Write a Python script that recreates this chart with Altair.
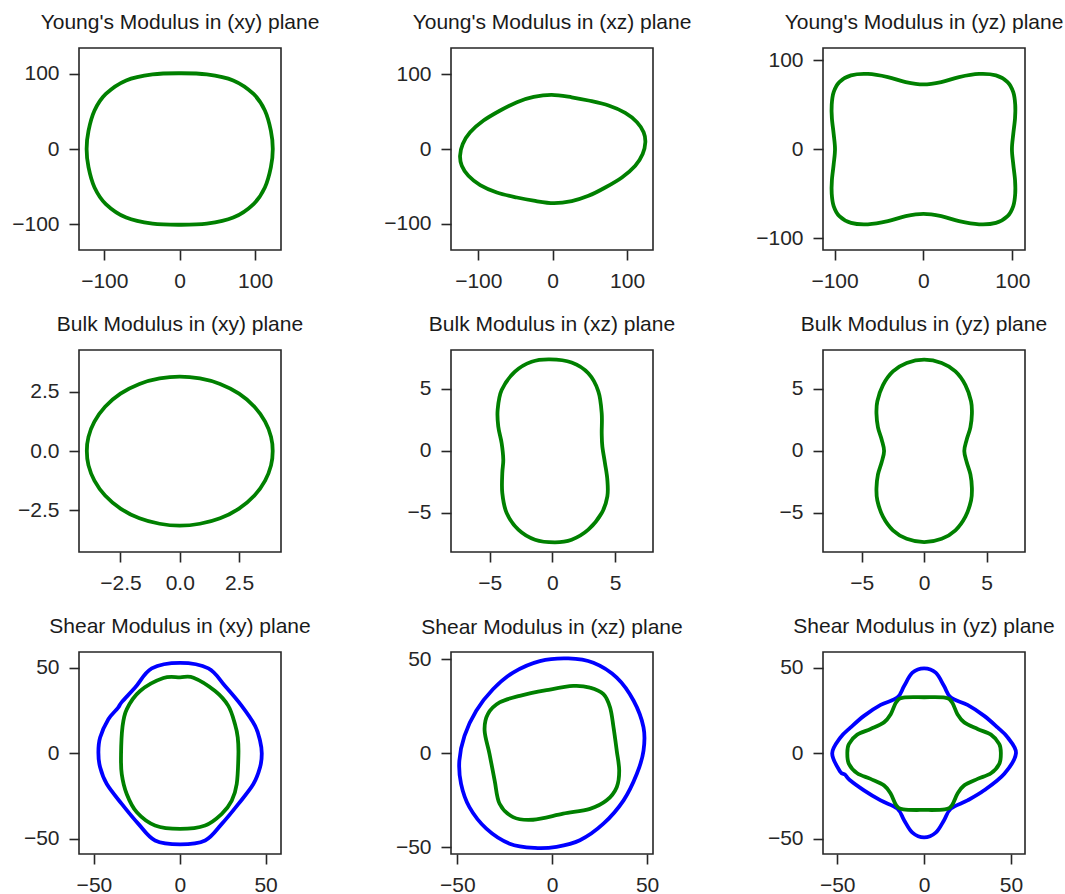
import altair as alt
import pandas as pd

# ---------------- data ----------------
# Young's modulus (xy)
yxy_x = [123.5, 121, 113, 98, 71, 36, 0, -36, -71, -98, -113, -121, -123.5, -121, -113, -98, -71, -36, 0, 36, 71, 98, 113, 121]
yxy_y = [0, 24, 51, 73, 91, 99, 100.5, 99, 91, 73, 51, 24, 0, -24, -51, -73, -91, -99, -100.5, -99, -91, -73, -51, -24]

# Young's modulus (xz)
yxz_x = [-1.3, 25.6, 48.1, 75.1, 97.5, 113.3, 122.2, 124.5, 120.9, 111.0, 93.0, 70.6, 48.1, 25.6,
         1.3, -25.6, -48.1, -75.1, -97.5, -113.3, -122.2, -124.5, -120.9, -111.0, -93.0, -70.6, -48.1, -25.6]
yxz_y = [72.6, 69.3, 65.0, 58.3, 48.4, 35.9, 22.4, 9.0, -6.7, -22.4, -38.1, -51.6, -62.8, -69.8,
         -72.6, -69.3, -65.0, -58.3, -48.4, -35.9, -22.4, -9.0, 6.7, 22.4, 38.1, 51.6, 62.8, 69.8]

# Young's modulus (yz)
yyz_x = [99.5, 101, 103, 103.2, 101, 94.6, 81.5, 62.5, 40, 20, 0, -20, -40, -62.5, -81.5, -94.6, -101, -103.2, -103, -101,
         -99.5, -101, -103, -103.2, -101, -94.6, -81.5, -62.5, -40, -20, 0, 20, 40, 62.5, 81.5, 94.6, 101, 103.2, 103, 101]
yyz_y = [0, 17, 35, 50, 64, 75.3, 82.9, 84.5, 81, 75.3, 72.7, 75.3, 81, 84.5, 82.9, 75.3, 64, 50, 35, 17,
         0, -17, -35, -50, -64, -75.3, -82.9, -84.5, -81, -75.3, -72.7, -75.3, -81, -84.5, -82.9, -75.3, -64, -50, -35, -17]

# Bulk modulus (xy)
bxy_x = [3.92, 3.85, 3.6, 3.15, 2.5, 1.7, 0.85, 0, -0.85, -1.7, -2.5, -3.15, -3.6, -3.85,
         -3.92, -3.85, -3.6, -3.15, -2.5, -1.7, -0.85, 0, 0.85, 1.7, 2.5, 3.15, 3.6, 3.85]
bxy_y = [0, 0.6, 1.24, 1.87, 2.42, 2.83, 3.06, 3.14, 3.06, 2.83, 2.42, 1.87, 1.24, 0.6,
         0, -0.6, -1.24, -1.87, -2.42, -2.83, -3.06, -3.14, -3.06, -2.83, -2.42, -1.87, -1.24, -0.6]

# Bulk modulus (xz)
bxz_x = [-0.19, 1.54, 2.87, 3.67, 3.94, 3.94, 3.99, 4.2, 4.39, 4.39, 3.94, 2.87, 1.54, 0.21,
         -1.38, -2.71, -3.64, -3.99, -3.99, -3.91, -4.04, -4.31, -4.36, -4.04, -2.98, -1.65]
bxz_y = [7.37, 7.12, 6.25, 4.8, 3.03, 1.42, 0.35, -0.99, -2.33, -3.67, -5.01, -6.35, -7.16, -7.37,
         -7.16, -6.35, -5.01, -3.4, -1.8, -0.72, 0.62, 1.96, 3.3, 4.91, 6.38, 7.18]

# Bulk modulus (yz)
byz_x = [0, 1.4, 2.5, 3.3, 3.75, 3.82, 3.7, 3.4, 3.21, 3.4, 3.7, 3.82, 3.75, 3.3, 2.5, 1.4,
         0, -1.4, -2.5, -3.3, -3.75, -3.82, -3.7, -3.4, -3.21, -3.4, -3.7, -3.82, -3.75, -3.3, -2.5, -1.4]
byz_y = [7.35, 7.08, 6.4, 5.3, 4.0, 3.0, 1.9, 0.9, 0, -0.9, -1.9, -3.0, -4.0, -5.3, -6.4, -7.08,
         -7.35, -7.08, -6.4, -5.3, -4.0, -3.0, -1.9, -0.9, 0, 0.9, 1.9, 3.0, 4.0, 5.3, 6.4, 7.08]

# Shear modulus (xy): maximum (blue) and minimum (green)
sxy_max_x = [0.2, 16.7, 26.4, 36.1, 43.9, 46.8, 47.8, 46.8, 42.9, 34.2, 24.5, 14.8, 0.2, -14.4, -24.1, -33.8,
             -42.5, -46.4, -47.4, -46.4, -41.6, -36.0, -33.8, -26.0, -16.3]
sxy_max_y = [52.8, 49.5, 39.2, 27.6, 15.9, 7.2, -0.2, -8.3, -18.1, -29.7, -41.4, -51.1, -53.4, -51.1, -41.4, -29.7,
             -18.1, -8.3, 0.4, 9.1, 19.8, 26.4, 29.8, 38.3, 49.5]
sxy_min_x = [0.2, 8.0, 20.6, 28.3, 32.2, 33.8, 34.2, 33.2, 30.3, 24.5, 14.8, 0.2, -14.4, -25.0, -30.9, -33.8,
             -34.2, -33.4, -30.9, -23.1, -9.5]
sxy_min_y = [44.3, 44.1, 36.3, 27.6, 16.9, 9.1, -0.6, -18.1, -27.8, -35.5, -42.3, -44.3, -42.3, -34.6, -23.9, -12.2,
             -0.6, 15.0, 25.6, 36.3, 43.9]

# Shear modulus (xz)
sxz_max_x = [8.5, 21.7, 34.0, 42.9, 48.1, 48.1, 44.6, 37.6, 27.0, 14.6, 2.3, -9.2, -22.4, -34.7, -43.6, -48.0,
             -48.9, -46.2, -40.0, -31.2, -20.6, -6.5]
sxz_max_y = [50.4, 48.1, 40.2, 27.9, 13.8, 1.4, -10.9, -25.0, -37.4, -46.2, -49.7, -50.3, -48.0, -40.0, -28.6, -16.2,
             -3.9, 9.3, 22.6, 34.0, 42.9, 49.0]
sxz_min_x = [11.1, 19.9, 27.0, 30.5, 32.3, 34.0, 35.3, 34.0, 28.7, 19.9, 5.8, -10.1, -20.6, -27.7, -30.3, -33.0,
             -35.6, -33.9, -27.7, -17.1, -3.0]
sxz_min_y = [35.8, 34.9, 31.4, 24.3, 13.8, 1.4, -9.2, -18.0, -25.0, -29.5, -32.1, -35.3, -33.9, -26.8, -14.5, -0.4,
             12.0, 20.8, 27.0, 30.5, 33.5]

# Shear modulus (yz)
syz_max_x = [0, 6.7, 11.5, 15.4, 25.0, 34.6, 42.3, 48.1, 52.9, 46.2, 34.6, 25.0, 15.4, 11.5, 6.7,
             0, -6.7, -11.5, -15.4, -25.0, -34.6, -43.0, -45.5, -48.5, -52.9, -48.1, -42.3, -34.6, -25.0, -15.4, -11.5, -6.7]
syz_max_y = [49.7, 47.2, 39.4, 32.6, 28.3, 21.9, 15.1, 9.3, 0, -12.0, -21.7, -27.6, -32.4, -39.2, -46.5,
             -49.3, -46.5, -39.2, -32.4, -27.6, -21.7, -15.5, -12.5, -10.5, 0, 9.3, 15.1, 21.9, 28.3, 32.6, 39.4, 47.2]
syz_min_x = [0, 12.0, 16.0, 19.2, 23.1, 30.8, 38.5, 43.3, 44.2, 43.3, 38.5, 30.8, 23.1, 19.2, 16.0, 12.0,
             0, -12.0, -16.0, -19.2, -23.1, -30.8, -38.5, -43.3, -44.2, -43.3, -38.5, -30.8, -23.1, -19.2, -16.0, -12.0]
syz_min_y = [32.8, 32.6, 30.0, 22.9, 18.1, 14.2, 10.9, 5.4, 0, -6.2, -11.7, -15.0, -18.8, -23.7, -30.5, -32.9,
             -33.2, -32.9, -30.5, -23.7, -18.8, -15.0, -11.7, -6.2, 0, 5.4, 10.9, 14.2, 18.1, 22.9, 30.0, 32.6]

TITLES = [
    "Young's Modulus in (xy) plane", "Young's Modulus in (xz) plane", "Young's Modulus in (yz) plane",
    "Bulk Modulus in (xy) plane", "Bulk Modulus in (xz) plane", "Bulk Modulus in (yz) plane",
    "Shear Modulus in (xy) plane", "Shear Modulus in (xz) plane", "Shear Modulus in (yz) plane",
]

FONT = "Liberation Sans"
INK = "#262626"


def panel(title, curves, xdom, ydom, ticks, fmt, toff=-2):
    rows = []
    for name, xs, ys in curves:
        for i, (x, y) in enumerate(zip(xs, ys)):
            rows.append({"x": x, "y": y, "i": i, "c": name})
    df = pd.DataFrame(rows)
    return (
        alt.Chart(df, title=alt.Title(title, fontSize=21, font=FONT, fontWeight="normal", color="#1a1a1a",
                                      baseline="alphabetic", offset=toff, anchor="middle", frame="group"))
        .mark_line(interpolate="cardinal-closed", strokeWidth=3.8)
        .encode(
            x=alt.X("x:Q", scale=alt.Scale(domain=xdom, nice=False, zero=False),
                    axis=alt.Axis(values=ticks, format=fmt, title=None)),
            y=alt.Y("y:Q", scale=alt.Scale(domain=ydom, nice=False, zero=False),
                    axis=alt.Axis(values=ticks, format=fmt, title=None)),
            color=alt.Color("c:N", scale=alt.Scale(domain=["max", "min"], range=["blue", "green"]), legend=None),
            order=alt.Order("i:Q"),
        )
        .properties(width=202, height=202)
    )


charts = [
    panel(TITLES[0], [("min", yxy_x, yxy_y)], [-133.6, 134.4], [-134, 134], [-100, 0, 100], "d"),
    panel(TITLES[1], [("min", yxz_x, yxz_y)], [-136.7, 134.8], [-135.4, 135.4], [-100, 0, 100], "d"),
    panel(TITLES[2], [("min", yyz_x, yyz_y)], [-113, 114.2], [-113.4, 113.7], [-100, 0, 100], "d"),
    panel(TITLES[3], [("min", bxy_x, bxy_y)], [-4.25, 4.27], [-4.25, 4.26], [-2.5, 0, 2.5], ".1f"),
    panel(TITLES[4], [("min", bxz_x, bxz_y)], [-8.08, 8.03], [-8.15, 8.13], [-5, 0, 5], "d"),
    panel(TITLES[5], [("min", byz_x, byz_y)], [-8.1, 8.07], [-8.15, 8.13], [-5, 0, 5], "d"),
    panel(TITLES[6], [("max", sxy_max_x, sxy_max_y), ("min", sxy_min_x, sxy_min_y)], [-58.7, 59], [-59, 59.1], [-50, 0, 50], "d"),
    panel(TITLES[7], [("max", sxz_max_x, sxz_max_y), ("min", sxz_min_x, sxz_min_y)], [-53.3, 53.1], [-53.5, 53.8], [-50, 0, 50], "d", -7),
    panel(TITLES[8], [("max", syz_max_x, syz_max_y), ("min", syz_min_x, syz_min_y)], [-58.2, 58.1], [-59, 59.3], [-50, 0, 50], "d"),
]

chart = (
    alt.concat(*charts, columns=3, spacing={"row": 100, "column": 170}, bounds="flush")
    .properties(padding={"left": 10, "top": 11, "right": 0, "bottom": 0}, background="white")
    .configure_view(stroke=INK, strokeWidth=1.6)
    .configure_axis(
        domain=False, grid=False, ticks=True, tickColor=INK, tickWidth=1.6, tickSize=10,
        labelFont=FONT, labelFontSize=21, labelColor=INK, labelPadding=10,
    )
)

chart.save("out.html", embed_options={"renderer": "svg", "actions": False})
